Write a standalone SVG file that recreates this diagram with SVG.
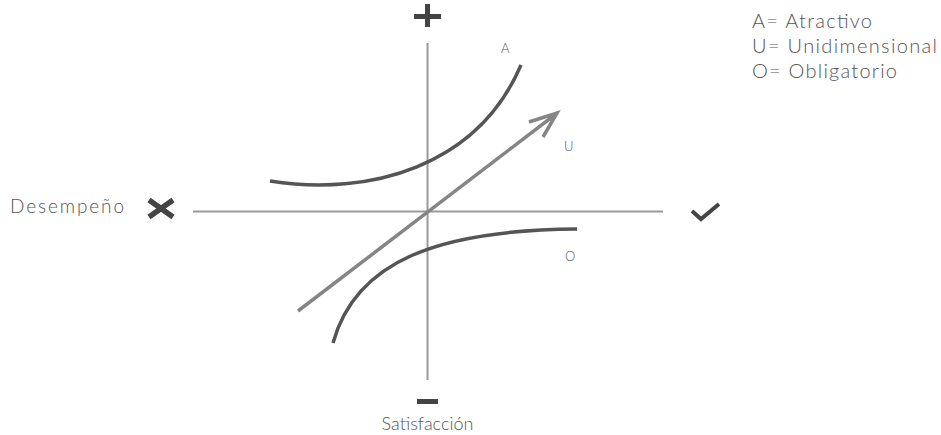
<svg xmlns="http://www.w3.org/2000/svg" width="941" height="435" viewBox="0 0 941 435">
<style>
.t{font-family:"Lato","Open Sans","Liberation Sans",sans-serif;fill:#555;font-weight:300}
.axis{stroke:#9a9a9a;stroke-width:2;fill:none}
.curve{stroke:#555;stroke-width:3.5;fill:none;stroke-linecap:butt}
.arrow{stroke:#858585;stroke-width:3.5;fill:none}
.mark{fill:#444}
.markline{stroke:#444;fill:none}
</style>
<rect width="941" height="435" fill="#fff"/>
<g id="connectors">
<line class="axis" x1="427.5" y1="43" x2="427.5" y2="380"/>
<line class="axis" x1="193" y1="211.5" x2="663" y2="211.5"/>
<path id="curveA" class="curve" d="M270,181 C370,197 478,166 521,65"/>
<path id="curveO" class="curve" d="M333,343 C356,260 440,230 577,229"/>
<path id="arrowU" class="arrow" d="M298,311 L556,114 M529,122 L557,113 L543,137"/>
</g>
<g id="plus"><rect class="mark" x="414" y="14" width="27" height="5"/><rect class="mark" x="425" y="4" width="5" height="23"/></g>
<g id="minus"><rect class="mark" x="417" y="399" width="21" height="5"/></g>
<g id="cross"><path class="markline" stroke-width="5.5" d="M149,200 L173,217 M149,217 L173,200"/></g>
<g id="check"><path class="markline" stroke-width="4" d="M692,211 L701,219 L719,204"/></g>
<g id="labels">
<text class="t" x="10" y="213" font-size="19" textLength="114" lengthAdjust="spacing">Desempeño</text>
<text class="t" x="427.5" y="430" font-size="18" text-anchor="middle">Satisfacción</text>
<text class="t" x="501" y="53" font-size="13">A</text>
<text class="t" x="564" y="151" font-size="13">U</text>
<text class="t" x="565" y="261" font-size="13">O</text>
</g>
<g id="legend">
<text class="t" x="752" y="28" font-size="20" textLength="120" lengthAdjust="spacing">A= Atractivo</text>
<text class="t" x="752" y="53" font-size="20" textLength="185" lengthAdjust="spacing">U= Unidimensional</text>
<text class="t" x="752" y="78" font-size="20" textLength="145" lengthAdjust="spacing">O= Obligatorio</text>
</g>
</svg>
